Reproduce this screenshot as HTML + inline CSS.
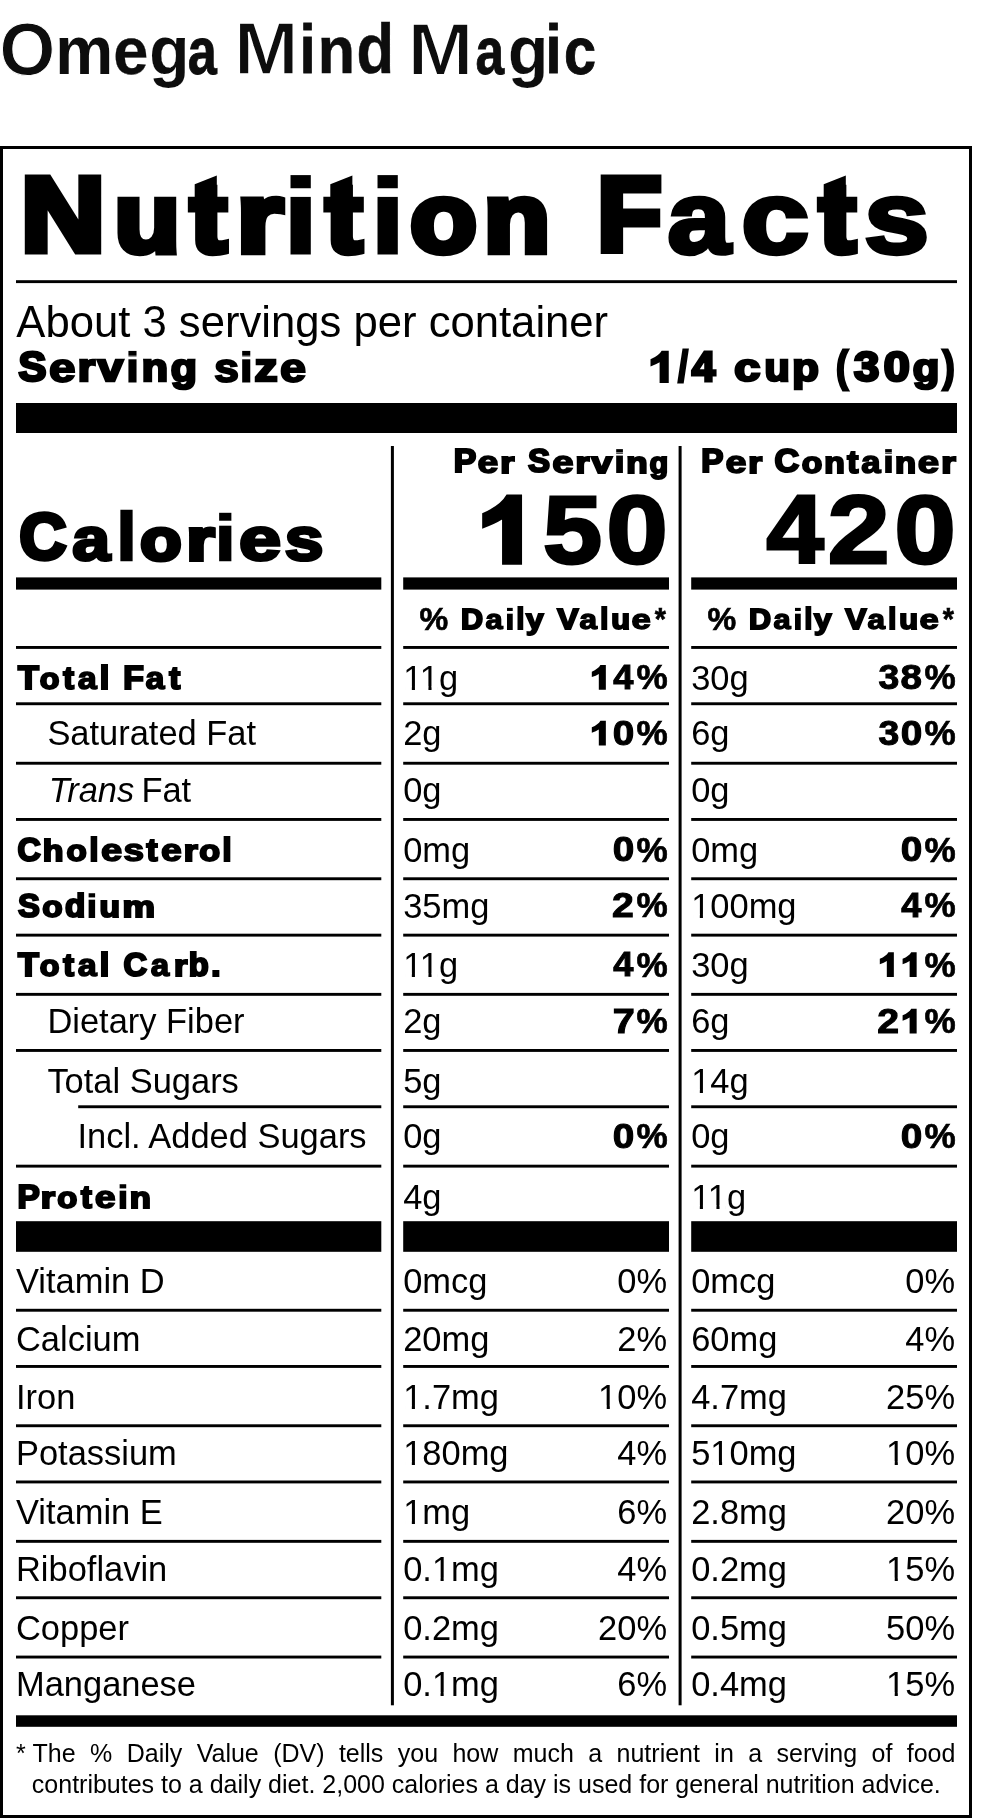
<!DOCTYPE html><html><head><meta charset="utf-8"><title>Nutrition Facts</title>
<style>html,body{margin:0;padding:0;background:#fff}svg{display:block;will-change:transform}text{font-family:"Liberation Sans",sans-serif;fill:#000}</style></head><body>
<svg width="992" height="1819" viewBox="0 0 992 1819">
<rect width="992" height="1819" fill="#fff"/>
<rect x="0.00" y="146.00" width="972.00" height="3.00"/>
<rect x="0.00" y="1815.00" width="972.00" height="3.00"/>
<rect x="0.00" y="146.00" width="3.00" height="1672.00"/>
<rect x="969.00" y="146.00" width="3.00" height="1672.00"/>
<rect x="16.00" y="280.20" width="941.00" height="2.90"/>
<rect x="16.00" y="403.00" width="941.00" height="30.00"/>
<rect x="390.90" y="446.00" width="3.00" height="1259.30"/>
<rect x="678.60" y="446.00" width="3.00" height="1259.30"/>
<rect x="16.00" y="577.40" width="365.30" height="12.20"/>
<rect x="16.00" y="1221.20" width="365.30" height="30.60"/>
<rect x="403.20" y="577.40" width="265.80" height="12.20"/>
<rect x="403.20" y="1221.20" width="265.80" height="30.60"/>
<rect x="691.20" y="577.40" width="265.80" height="12.20"/>
<rect x="691.20" y="1221.20" width="265.80" height="30.60"/>
<rect x="16.00" y="1715.30" width="941.00" height="11.50"/>
<rect x="16.00" y="646.00" width="365.30" height="2.90"/>
<rect x="403.20" y="646.00" width="265.80" height="2.90"/>
<rect x="691.20" y="646.00" width="265.80" height="2.90"/>
<rect x="16.00" y="702.30" width="365.30" height="2.90"/>
<rect x="403.20" y="702.30" width="265.80" height="2.90"/>
<rect x="691.20" y="702.30" width="265.80" height="2.90"/>
<rect x="16.00" y="761.80" width="365.30" height="2.90"/>
<rect x="403.20" y="761.80" width="265.80" height="2.90"/>
<rect x="691.20" y="761.80" width="265.80" height="2.90"/>
<rect x="16.00" y="818.00" width="365.30" height="2.90"/>
<rect x="403.20" y="818.00" width="265.80" height="2.90"/>
<rect x="691.20" y="818.00" width="265.80" height="2.90"/>
<rect x="16.00" y="877.30" width="365.30" height="2.90"/>
<rect x="403.20" y="877.30" width="265.80" height="2.90"/>
<rect x="691.20" y="877.30" width="265.80" height="2.90"/>
<rect x="16.00" y="933.70" width="365.30" height="2.90"/>
<rect x="403.20" y="933.70" width="265.80" height="2.90"/>
<rect x="691.20" y="933.70" width="265.80" height="2.90"/>
<rect x="16.00" y="992.90" width="365.30" height="2.90"/>
<rect x="403.20" y="992.90" width="265.80" height="2.90"/>
<rect x="691.20" y="992.90" width="265.80" height="2.90"/>
<rect x="16.00" y="1049.00" width="365.30" height="2.90"/>
<rect x="403.20" y="1049.00" width="265.80" height="2.90"/>
<rect x="691.20" y="1049.00" width="265.80" height="2.90"/>
<rect x="78.20" y="1105.30" width="303.10" height="2.90"/>
<rect x="403.20" y="1105.30" width="265.80" height="2.90"/>
<rect x="691.20" y="1105.30" width="265.80" height="2.90"/>
<rect x="16.00" y="1164.70" width="365.30" height="2.90"/>
<rect x="403.20" y="1164.70" width="265.80" height="2.90"/>
<rect x="691.20" y="1164.70" width="265.80" height="2.90"/>
<rect x="16.00" y="1308.80" width="365.30" height="2.90"/>
<rect x="403.20" y="1308.80" width="265.80" height="2.90"/>
<rect x="691.20" y="1308.80" width="265.80" height="2.90"/>
<rect x="16.00" y="1365.00" width="365.30" height="2.90"/>
<rect x="403.20" y="1365.00" width="265.80" height="2.90"/>
<rect x="691.20" y="1365.00" width="265.80" height="2.90"/>
<rect x="16.00" y="1424.30" width="365.30" height="2.90"/>
<rect x="403.20" y="1424.30" width="265.80" height="2.90"/>
<rect x="691.20" y="1424.30" width="265.80" height="2.90"/>
<rect x="16.00" y="1480.50" width="365.30" height="2.90"/>
<rect x="403.20" y="1480.50" width="265.80" height="2.90"/>
<rect x="691.20" y="1480.50" width="265.80" height="2.90"/>
<rect x="16.00" y="1539.90" width="365.30" height="2.90"/>
<rect x="403.20" y="1539.90" width="265.80" height="2.90"/>
<rect x="691.20" y="1539.90" width="265.80" height="2.90"/>
<rect x="16.00" y="1596.30" width="365.30" height="2.90"/>
<rect x="403.20" y="1596.30" width="265.80" height="2.90"/>
<rect x="691.20" y="1596.30" width="265.80" height="2.90"/>
<rect x="16.00" y="1655.60" width="365.30" height="2.90"/>
<rect x="403.20" y="1655.60" width="265.80" height="2.90"/>
<rect x="691.20" y="1655.60" width="265.80" height="2.90"/>
<text transform="translate(-0.40,74.67) scale(0.9942,1.0189)" font-size="72.10" font-weight="bold" stroke="#fff" stroke-width="0.93" stroke-linejoin="miter" style="fill:#0d0d0d">O</text>
<text transform="translate(55.21,73.62) scale(0.9046,0.9414)" font-size="72.10" font-weight="bold" stroke="#fff" stroke-width="0.04" stroke-linejoin="miter" style="fill:#0d0d0d">m</text>
<text transform="translate(113.36,74.06) scale(0.8750,0.9332)" font-size="72.10" font-weight="bold" stroke="#0d0d0d" stroke-width="0.29" stroke-linejoin="miter" style="fill:#0d0d0d">e</text>
<text transform="translate(149.19,74.26) scale(0.9121,0.9434)" font-size="72.10" font-weight="bold" stroke="#fff" stroke-width="0.12" stroke-linejoin="miter" style="fill:#0d0d0d">g</text>
<text transform="translate(187.65,73.74) scale(0.7247,0.9163)" font-size="72.10" font-weight="bold" stroke="#0d0d0d" stroke-width="1.00" stroke-linejoin="miter" style="fill:#0d0d0d">a</text>
<text transform="translate(234.09,74.43) scale(1.0752,1.0332)" font-size="72.10" font-weight="bold" stroke="#fff" stroke-width="1.60" stroke-linejoin="miter" style="fill:#0d0d0d">M</text>
<text transform="translate(299.66,73.12) scale(0.7827,0.9560)" font-size="72.10" font-weight="bold" stroke="#0d0d0d" stroke-width="1.00" stroke-linejoin="miter" style="fill:#0d0d0d">i</text>
<text transform="translate(317.77,73.29) scale(0.8444,0.9243)" font-size="72.10" font-weight="bold" stroke="#0d0d0d" stroke-width="0.66" stroke-linejoin="miter" style="fill:#0d0d0d">n</text>
<text transform="translate(356.61,73.34) scale(0.8535,0.9641)" font-size="72.10" font-weight="bold" stroke="#0d0d0d" stroke-width="0.55" stroke-linejoin="miter" style="fill:#0d0d0d">d</text>
<text transform="translate(407.57,74.52) scale(1.0991,1.0371)" font-size="72.10" font-weight="bold" stroke="#fff" stroke-width="1.78" stroke-linejoin="miter" style="fill:#0d0d0d">M</text>
<text transform="translate(475.55,73.74) scale(0.7123,0.9163)" font-size="72.10" font-weight="bold" stroke="#0d0d0d" stroke-width="1.00" stroke-linejoin="miter" style="fill:#0d0d0d">a</text>
<text transform="translate(508.06,74.28) scale(0.9158,0.9444)" font-size="72.10" font-weight="bold" stroke="#fff" stroke-width="0.16" stroke-linejoin="miter" style="fill:#0d0d0d">g</text>
<text transform="translate(545.40,73.12) scale(0.7990,0.9560)" font-size="72.10" font-weight="bold" stroke="#0d0d0d" stroke-width="1.00" stroke-linejoin="miter" style="fill:#0d0d0d">i</text>
<text transform="translate(563.90,73.74) scale(0.7989,0.9163)" font-size="72.10" font-weight="bold" stroke="#0d0d0d" stroke-width="1.00" stroke-linejoin="miter" style="fill:#0d0d0d">c</text>
<text transform="translate(21.02,251.28) scale(1.1054,1.0000)" font-size="105.29" font-weight="bold" stroke="#000" stroke-width="7.23" stroke-linejoin="miter">N</text>
<text transform="translate(114.46,251.55) scale(1.0187,0.9250)" font-size="105.29" font-weight="bold" stroke="#000" stroke-width="7.23" stroke-linejoin="miter">u</text>
<text transform="translate(190.15,251.55) scale(1.0363,0.9250)" font-size="105.29" font-weight="bold" stroke="#000" stroke-width="7.23" stroke-linejoin="miter">t</text>
<text transform="translate(236.76,251.55) scale(1.1286,0.9250)" font-size="105.29" font-weight="bold" stroke="#000" stroke-width="7.23" stroke-linejoin="miter">r</text>
<text transform="translate(286.92,251.28) scale(0.9373,1.0000)" font-size="105.29" font-weight="bold" stroke="#000" stroke-width="7.23" stroke-linejoin="miter">i</text>
<text transform="translate(325.75,251.55) scale(1.0363,0.9250)" font-size="105.29" font-weight="bold" stroke="#000" stroke-width="7.23" stroke-linejoin="miter">t</text>
<text transform="translate(373.92,251.28) scale(0.9373,1.0000)" font-size="105.29" font-weight="bold" stroke="#000" stroke-width="7.23" stroke-linejoin="miter">i</text>
<text transform="translate(410.14,251.55) scale(1.0353,0.9250)" font-size="105.29" font-weight="bold" stroke="#000" stroke-width="7.23" stroke-linejoin="miter">o</text>
<text transform="translate(483.84,251.55) scale(1.0321,0.9250)" font-size="105.29" font-weight="bold" stroke="#000" stroke-width="7.23" stroke-linejoin="miter">n</text>
<text transform="translate(597.23,251.28) scale(1.0012,1.0000)" font-size="105.29" font-weight="bold" stroke="#000" stroke-width="7.23" stroke-linejoin="miter">F</text>
<text transform="translate(667.52,252.74) scale(1.0752,0.9713)" font-size="105.29" font-weight="bold" stroke="#000" stroke-width="4.45" stroke-linejoin="miter">a</text>
<text transform="translate(741.27,252.74) scale(1.1577,0.9713)" font-size="105.29" font-weight="bold" stroke="#000" stroke-width="4.45" stroke-linejoin="miter">c</text>
<text transform="translate(819.14,251.55) scale(1.0339,0.9250)" font-size="105.29" font-weight="bold" stroke="#000" stroke-width="7.23" stroke-linejoin="miter">t</text>
<text transform="translate(864.22,252.74) scale(1.1073,0.9713)" font-size="105.29" font-weight="bold" stroke="#000" stroke-width="4.45" stroke-linejoin="miter">s</text>
<text transform="translate(16.30,336.60) scale(0.9829,1.0000)" font-size="44.40">About 3 servings per container</text>
<text transform="translate(18.39,381.26) scale(0.9987,1.0000)" font-size="42.00" font-weight="bold" stroke="#000" stroke-width="2.89" stroke-linejoin="miter">S</text>
<text transform="translate(49.12,381.68) scale(1.1369,0.9534)" font-size="42.00" font-weight="bold" stroke="#000" stroke-width="2.13" stroke-linejoin="miter">e</text>
<text transform="translate(77.64,381.37) scale(1.0617,0.9250)" font-size="42.00" font-weight="bold" stroke="#000" stroke-width="2.89" stroke-linejoin="miter">r</text>
<text transform="translate(97.76,381.37) scale(1.0825,0.9250)" font-size="42.00" font-weight="bold" stroke="#000" stroke-width="2.89" stroke-linejoin="miter">v</text>
<text transform="translate(126.99,381.26) scale(0.9419,1.0000)" font-size="42.00" font-weight="bold" stroke="#000" stroke-width="2.89" stroke-linejoin="miter">i</text>
<text transform="translate(141.79,381.37) scale(1.0257,0.9250)" font-size="42.00" font-weight="bold" stroke="#000" stroke-width="2.89" stroke-linejoin="miter">n</text>
<text transform="translate(170.63,381.37) scale(1.0186,0.9250)" font-size="42.00" font-weight="bold" stroke="#000" stroke-width="2.89" stroke-linejoin="miter">g</text>
<text transform="translate(214.24,381.68) scale(1.0545,0.9534)" font-size="42.00" font-weight="bold" stroke="#000" stroke-width="2.13" stroke-linejoin="miter">s</text>
<text transform="translate(240.79,381.26) scale(0.9419,1.0000)" font-size="42.00" font-weight="bold" stroke="#000" stroke-width="2.89" stroke-linejoin="miter">i</text>
<text transform="translate(254.54,381.37) scale(1.0958,0.9250)" font-size="42.00" font-weight="bold" stroke="#000" stroke-width="2.89" stroke-linejoin="miter">z</text>
<text transform="translate(279.92,381.68) scale(1.1153,0.9534)" font-size="42.00" font-weight="bold" stroke="#000" stroke-width="2.13" stroke-linejoin="miter">e</text>
<text transform="translate(678.29,381.26) scale(0.8232,1.0000)" font-size="42.00" font-weight="bold" stroke="#000" stroke-width="2.89" stroke-linejoin="miter">/</text>
<text transform="translate(691.76,381.26) scale(1.0108,1.0000)" font-size="42.00" font-weight="bold" stroke="#000" stroke-width="2.89" stroke-linejoin="miter">4</text>
<text transform="translate(734.35,381.37) scale(1.1136,0.9250)" font-size="42.00" font-weight="bold" stroke="#000" stroke-width="2.89" stroke-linejoin="miter">c</text>
<text transform="translate(764.38,381.37) scale(0.9838,0.9250)" font-size="42.00" font-weight="bold" stroke="#000" stroke-width="2.89" stroke-linejoin="miter">u</text>
<text transform="translate(792.28,381.37) scale(1.0349,0.9250)" font-size="42.00" font-weight="bold" stroke="#000" stroke-width="2.89" stroke-linejoin="miter">p</text>
<text transform="translate(836.36,381.26) scale(0.8336,1.0000)" font-size="42.00" font-weight="bold" stroke="#000" stroke-width="2.89" stroke-linejoin="miter">(</text>
<text transform="translate(854.05,381.26) scale(1.0838,1.0000)" font-size="42.00" font-weight="bold" stroke="#000" stroke-width="2.89" stroke-linejoin="miter">3</text>
<text transform="translate(883.65,381.26) scale(1.1149,1.0000)" font-size="42.00" font-weight="bold" stroke="#000" stroke-width="2.89" stroke-linejoin="miter">0</text>
<text transform="translate(912.63,381.37) scale(1.0349,0.9250)" font-size="42.00" font-weight="bold" stroke="#000" stroke-width="2.89" stroke-linejoin="miter">g</text>
<text transform="translate(942.71,381.26) scale(0.8401,1.0000)" font-size="42.00" font-weight="bold" stroke="#000" stroke-width="2.89" stroke-linejoin="miter">)</text>
<text transform="translate(453.65,472.49) scale(1.0426,1.0000)" font-size="32.32" font-weight="bold" stroke="#000" stroke-width="2.22" stroke-linejoin="miter">P</text>
<text transform="translate(477.58,472.82) scale(1.1571,0.9534)" font-size="32.32" font-weight="bold" stroke="#000" stroke-width="1.64" stroke-linejoin="miter">e</text>
<text transform="translate(500.18,472.57) scale(1.1199,0.9250)" font-size="32.32" font-weight="bold" stroke="#000" stroke-width="2.22" stroke-linejoin="miter">r</text>
<text transform="translate(528.12,472.49) scale(1.0212,1.0000)" font-size="32.32" font-weight="bold" stroke="#000" stroke-width="2.22" stroke-linejoin="miter">S</text>
<text transform="translate(552.17,472.82) scale(1.1908,0.9534)" font-size="32.32" font-weight="bold" stroke="#000" stroke-width="1.64" stroke-linejoin="miter">e</text>
<text transform="translate(575.60,472.57) scale(1.1037,0.9250)" font-size="32.32" font-weight="bold" stroke="#000" stroke-width="2.22" stroke-linejoin="miter">r</text>
<text transform="translate(591.47,472.57) scale(1.1419,0.9250)" font-size="32.32" font-weight="bold" stroke="#000" stroke-width="2.22" stroke-linejoin="miter">v</text>
<text transform="translate(614.97,472.49) scale(1.0176,1.0000)" font-size="32.32" font-weight="bold" stroke="#000" stroke-width="2.22" stroke-linejoin="miter">i</text>
<text transform="translate(626.32,472.57) scale(1.0825,0.9250)" font-size="32.32" font-weight="bold" stroke="#000" stroke-width="2.22" stroke-linejoin="miter">n</text>
<text transform="translate(649.50,472.57) scale(0.9477,0.9250)" font-size="32.32" font-weight="bold" stroke="#000" stroke-width="2.22" stroke-linejoin="miter">g</text>
<text transform="translate(701.36,472.49) scale(1.0283,1.0000)" font-size="32.32" font-weight="bold" stroke="#000" stroke-width="2.22" stroke-linejoin="miter">P</text>
<text transform="translate(725.38,472.82) scale(1.1684,0.9534)" font-size="32.32" font-weight="bold" stroke="#000" stroke-width="1.64" stroke-linejoin="miter">e</text>
<text transform="translate(748.20,472.57) scale(1.1037,0.9250)" font-size="32.32" font-weight="bold" stroke="#000" stroke-width="2.22" stroke-linejoin="miter">r</text>
<text transform="translate(774.61,472.49) scale(1.0568,1.0000)" font-size="32.32" font-weight="bold" stroke="#000" stroke-width="2.22" stroke-linejoin="miter">C</text>
<text transform="translate(801.80,472.57) scale(1.0403,0.9250)" font-size="32.32" font-weight="bold" stroke="#000" stroke-width="2.22" stroke-linejoin="miter">o</text>
<text transform="translate(824.35,472.57) scale(1.0390,0.9250)" font-size="32.32" font-weight="bold" stroke="#000" stroke-width="2.22" stroke-linejoin="miter">n</text>
<text transform="translate(847.24,472.53) scale(1.0290,0.9600)" font-size="32.32" font-weight="bold" stroke="#000" stroke-width="2.22" stroke-linejoin="miter">t</text>
<text transform="translate(861.34,472.82) scale(1.0767,0.9534)" font-size="32.32" font-weight="bold" stroke="#000" stroke-width="1.64" stroke-linejoin="miter">a</text>
<text transform="translate(884.09,472.49) scale(1.0039,1.0000)" font-size="32.32" font-weight="bold" stroke="#000" stroke-width="2.22" stroke-linejoin="miter">i</text>
<text transform="translate(895.03,472.57) scale(1.0662,0.9250)" font-size="32.32" font-weight="bold" stroke="#000" stroke-width="2.22" stroke-linejoin="miter">n</text>
<text transform="translate(917.77,472.82) scale(1.1908,0.9534)" font-size="32.32" font-weight="bold" stroke="#000" stroke-width="1.64" stroke-linejoin="miter">e</text>
<text transform="translate(941.35,472.57) scale(1.1524,0.9250)" font-size="32.32" font-weight="bold" stroke="#000" stroke-width="2.22" stroke-linejoin="miter">r</text>
<text transform="translate(19.50,559.48) scale(1.0031,1.0000)" font-size="64.61" font-weight="bold" stroke="#000" stroke-width="4.44" stroke-linejoin="miter">C</text>
<text transform="translate(72.26,560.14) scale(1.0540,0.9534)" font-size="64.61" font-weight="bold" stroke="#000" stroke-width="3.28" stroke-linejoin="miter">a</text>
<text transform="translate(118.22,559.48) scale(0.9219,1.0000)" font-size="64.61" font-weight="bold" stroke="#000" stroke-width="4.44" stroke-linejoin="miter">l</text>
<text transform="translate(140.31,559.65) scale(1.0459,0.9250)" font-size="64.61" font-weight="bold" stroke="#000" stroke-width="4.44" stroke-linejoin="miter">o</text>
<text transform="translate(186.48,559.65) scale(1.1124,0.9250)" font-size="64.61" font-weight="bold" stroke="#000" stroke-width="4.44" stroke-linejoin="miter">r</text>
<text transform="translate(217.12,559.48) scale(0.9219,1.0000)" font-size="64.61" font-weight="bold" stroke="#000" stroke-width="4.44" stroke-linejoin="miter">i</text>
<text transform="translate(238.95,560.14) scale(1.1719,0.9534)" font-size="64.61" font-weight="bold" stroke="#000" stroke-width="3.28" stroke-linejoin="miter">e</text>
<text transform="translate(284.79,560.14) scale(1.0788,0.9534)" font-size="64.61" font-weight="bold" stroke="#000" stroke-width="3.28" stroke-linejoin="miter">s</text>
<text transform="translate(606.58,563.25) scale(1.1302,1.0000)" font-size="97.29" font-weight="bold" stroke="#000" stroke-width="2.91" stroke-linejoin="miter">0</text>
<text transform="translate(543.02,563.25) scale(1.0911,1.0000)" font-size="97.29" font-weight="bold" stroke="#000" stroke-width="2.91" stroke-linejoin="miter">5</text>
<text transform="translate(894.58,563.25) scale(1.1302,1.0000)" font-size="97.29" font-weight="bold" stroke="#000" stroke-width="2.91" stroke-linejoin="miter">0</text>
<text transform="translate(827.73,563.25) scale(1.1421,1.0000)" font-size="97.29" font-weight="bold" stroke="#000" stroke-width="2.91" stroke-linejoin="miter">2</text>
<text transform="translate(766.48,563.25) scale(1.0569,1.0000)" font-size="97.29" font-weight="bold" stroke="#000" stroke-width="2.91" stroke-linejoin="miter">4</text>
<text transform="translate(461.04,628.90) scale(1.0506,1.0000)" font-size="29.09" font-weight="bold" stroke="#000" stroke-width="2.00" stroke-linejoin="miter">D</text>
<text transform="translate(485.40,629.20) scale(1.0584,0.9534)" font-size="29.09" font-weight="bold" stroke="#000" stroke-width="1.48" stroke-linejoin="miter">a</text>
<text transform="translate(505.91,628.90) scale(0.9627,1.0000)" font-size="29.09" font-weight="bold" stroke="#000" stroke-width="2.00" stroke-linejoin="miter">i</text>
<text transform="translate(516.41,628.90) scale(0.9627,1.0000)" font-size="29.09" font-weight="bold" stroke="#000" stroke-width="2.00" stroke-linejoin="miter">l</text>
<text transform="translate(525.88,628.98) scale(1.0838,0.9250)" font-size="29.09" font-weight="bold" stroke="#000" stroke-width="2.00" stroke-linejoin="miter">y</text>
<text transform="translate(557.19,628.90) scale(1.0955,1.0000)" font-size="29.09" font-weight="bold" stroke="#000" stroke-width="2.00" stroke-linejoin="miter">V</text>
<text transform="translate(579.61,629.20) scale(1.0814,0.9534)" font-size="29.09" font-weight="bold" stroke="#000" stroke-width="1.48" stroke-linejoin="miter">a</text>
<text transform="translate(600.29,628.90) scale(0.9933,1.0000)" font-size="29.09" font-weight="bold" stroke="#000" stroke-width="2.00" stroke-linejoin="miter">l</text>
<text transform="translate(611.21,628.98) scale(1.0578,0.9250)" font-size="29.09" font-weight="bold" stroke="#000" stroke-width="2.00" stroke-linejoin="miter">u</text>
<text transform="translate(631.60,629.20) scale(1.1922,0.9534)" font-size="29.09" font-weight="bold" stroke="#000" stroke-width="1.48" stroke-linejoin="miter">e</text>
<text transform="translate(419.42,629.89) scale(1.0401,1.0000)" font-size="31.06" font-weight="bold" stroke="#000" stroke-width="0.61" stroke-linejoin="miter">%</text>
<text transform="translate(654.68,629.99) scale(0.9257,1.0000)" font-size="31.06" font-weight="bold" stroke="#000" stroke-width="0.61" stroke-linejoin="miter">*</text>
<text transform="translate(749.04,628.90) scale(1.0506,1.0000)" font-size="29.09" font-weight="bold" stroke="#000" stroke-width="2.00" stroke-linejoin="miter">D</text>
<text transform="translate(773.40,629.20) scale(1.0584,0.9534)" font-size="29.09" font-weight="bold" stroke="#000" stroke-width="1.48" stroke-linejoin="miter">a</text>
<text transform="translate(793.91,628.90) scale(0.9627,1.0000)" font-size="29.09" font-weight="bold" stroke="#000" stroke-width="2.00" stroke-linejoin="miter">i</text>
<text transform="translate(804.41,628.90) scale(0.9627,1.0000)" font-size="29.09" font-weight="bold" stroke="#000" stroke-width="2.00" stroke-linejoin="miter">l</text>
<text transform="translate(813.88,628.98) scale(1.0838,0.9250)" font-size="29.09" font-weight="bold" stroke="#000" stroke-width="2.00" stroke-linejoin="miter">y</text>
<text transform="translate(845.19,628.90) scale(1.0955,1.0000)" font-size="29.09" font-weight="bold" stroke="#000" stroke-width="2.00" stroke-linejoin="miter">V</text>
<text transform="translate(867.61,629.20) scale(1.0814,0.9534)" font-size="29.09" font-weight="bold" stroke="#000" stroke-width="1.48" stroke-linejoin="miter">a</text>
<text transform="translate(888.29,628.90) scale(0.9933,1.0000)" font-size="29.09" font-weight="bold" stroke="#000" stroke-width="2.00" stroke-linejoin="miter">l</text>
<text transform="translate(899.21,628.98) scale(1.0578,0.9250)" font-size="29.09" font-weight="bold" stroke="#000" stroke-width="2.00" stroke-linejoin="miter">u</text>
<text transform="translate(919.60,629.20) scale(1.1922,0.9534)" font-size="29.09" font-weight="bold" stroke="#000" stroke-width="1.48" stroke-linejoin="miter">e</text>
<text transform="translate(707.42,629.89) scale(1.0401,1.0000)" font-size="31.06" font-weight="bold" stroke="#000" stroke-width="0.61" stroke-linejoin="miter">%</text>
<text transform="translate(942.68,629.99) scale(0.9257,1.0000)" font-size="31.06" font-weight="bold" stroke="#000" stroke-width="0.61" stroke-linejoin="miter">*</text>
<text transform="translate(17.98,688.69) scale(1.0584,1.0000)" font-size="32.32" font-weight="bold" stroke="#000" stroke-width="2.22" stroke-linejoin="miter">T</text>
<text transform="translate(39.70,688.77) scale(0.9950,0.9250)" font-size="32.32" font-weight="bold" stroke="#000" stroke-width="2.22" stroke-linejoin="miter">o</text>
<text transform="translate(63.31,688.73) scale(0.9978,0.9600)" font-size="32.32" font-weight="bold" stroke="#000" stroke-width="2.22" stroke-linejoin="miter">t</text>
<text transform="translate(77.63,689.02) scale(1.0560,0.9534)" font-size="32.32" font-weight="bold" stroke="#000" stroke-width="1.64" stroke-linejoin="miter">a</text>
<text transform="translate(99.64,688.69) scale(1.0589,1.0000)" font-size="32.32" font-weight="bold" stroke="#000" stroke-width="2.22" stroke-linejoin="miter">l</text>
<text transform="translate(123.25,688.69) scale(1.0430,1.0000)" font-size="32.32" font-weight="bold" stroke="#000" stroke-width="2.22" stroke-linejoin="miter">F</text>
<text transform="translate(145.53,689.02) scale(1.0560,0.9534)" font-size="32.32" font-weight="bold" stroke="#000" stroke-width="1.64" stroke-linejoin="miter">a</text>
<text transform="translate(169.23,688.73) scale(1.0212,0.9600)" font-size="32.32" font-weight="bold" stroke="#000" stroke-width="2.22" stroke-linejoin="miter">t</text>
<text transform="translate(403.20,689.60)" font-size="34.45">11g</text>
<text transform="translate(691.20,689.60)" font-size="34.45">30g</text>
<text transform="translate(636.61,689.46) scale(1.0181,1.0000)" font-size="34.51" font-weight="bold" stroke="#000" stroke-width="0.68" stroke-linejoin="miter">%</text>
<text transform="translate(613.30,689.29) scale(1.0569,1.0000)" font-size="34.27" font-weight="bold" stroke="#000" stroke-width="1.03" stroke-linejoin="miter">4</text>
<text transform="translate(924.61,689.46) scale(1.0181,1.0000)" font-size="34.51" font-weight="bold" stroke="#000" stroke-width="0.68" stroke-linejoin="miter">%</text>
<text transform="translate(900.61,689.29) scale(1.1232,1.0000)" font-size="34.27" font-weight="bold" stroke="#000" stroke-width="1.03" stroke-linejoin="miter">8</text>
<text transform="translate(878.42,689.29) scale(1.0911,1.0000)" font-size="34.27" font-weight="bold" stroke="#000" stroke-width="1.03" stroke-linejoin="miter">3</text>
<text transform="translate(47.40,745.30)" font-size="34.45">Saturated Fat</text>
<text transform="translate(403.20,745.30)" font-size="34.45">2g</text>
<text transform="translate(691.20,745.30)" font-size="34.45">6g</text>
<text transform="translate(636.61,745.16) scale(1.0181,1.0000)" font-size="34.51" font-weight="bold" stroke="#000" stroke-width="0.68" stroke-linejoin="miter">%</text>
<text transform="translate(612.84,744.99) scale(1.1302,1.0000)" font-size="34.27" font-weight="bold" stroke="#000" stroke-width="1.03" stroke-linejoin="miter">0</text>
<text transform="translate(924.61,745.16) scale(1.0181,1.0000)" font-size="34.51" font-weight="bold" stroke="#000" stroke-width="0.68" stroke-linejoin="miter">%</text>
<text transform="translate(900.84,744.99) scale(1.1302,1.0000)" font-size="34.27" font-weight="bold" stroke="#000" stroke-width="1.03" stroke-linejoin="miter">0</text>
<text transform="translate(878.42,744.99) scale(1.0911,1.0000)" font-size="34.27" font-weight="bold" stroke="#000" stroke-width="1.03" stroke-linejoin="miter">3</text>
<text transform="translate(48.71,801.50)" font-size="34.45" font-style="italic">Trans</text>
<text transform="translate(141.41,801.50)" font-size="34.45">Fat</text>
<text transform="translate(403.20,801.50)" font-size="34.45">0g</text>
<text transform="translate(691.20,801.50)" font-size="34.45">0g</text>
<text transform="translate(17.50,860.89) scale(0.9984,1.0000)" font-size="32.32" font-weight="bold" stroke="#000" stroke-width="2.22" stroke-linejoin="miter">C</text>
<text transform="translate(42.74,860.97) scale(1.0499,0.9250)" font-size="32.32" font-weight="bold" stroke="#000" stroke-width="2.22" stroke-linejoin="miter">h</text>
<text transform="translate(66.50,860.97) scale(1.0252,0.9250)" font-size="32.32" font-weight="bold" stroke="#000" stroke-width="2.22" stroke-linejoin="miter">o</text>
<text transform="translate(89.50,860.89) scale(0.9901,1.0000)" font-size="32.32" font-weight="bold" stroke="#000" stroke-width="2.22" stroke-linejoin="miter">l</text>
<text transform="translate(101.08,861.22) scale(1.1796,0.9534)" font-size="32.32" font-weight="bold" stroke="#000" stroke-width="1.64" stroke-linejoin="miter">e</text>
<text transform="translate(123.58,861.22) scale(1.1447,0.9534)" font-size="32.32" font-weight="bold" stroke="#000" stroke-width="1.64" stroke-linejoin="miter">s</text>
<text transform="translate(146.53,860.93) scale(1.0212,0.9600)" font-size="32.32" font-weight="bold" stroke="#000" stroke-width="2.22" stroke-linejoin="miter">t</text>
<text transform="translate(160.88,861.22) scale(1.1571,0.9534)" font-size="32.32" font-weight="bold" stroke="#000" stroke-width="1.64" stroke-linejoin="miter">e</text>
<text transform="translate(183.69,860.97) scale(1.1118,0.9250)" font-size="32.32" font-weight="bold" stroke="#000" stroke-width="2.22" stroke-linejoin="miter">r</text>
<text transform="translate(199.31,860.97) scale(1.0553,0.9250)" font-size="32.32" font-weight="bold" stroke="#000" stroke-width="2.22" stroke-linejoin="miter">o</text>
<text transform="translate(222.49,860.89) scale(1.0039,1.0000)" font-size="32.32" font-weight="bold" stroke="#000" stroke-width="2.22" stroke-linejoin="miter">l</text>
<text transform="translate(403.20,861.80)" font-size="34.45">0mg</text>
<text transform="translate(691.20,861.80)" font-size="34.45">0mg</text>
<text transform="translate(636.61,861.66) scale(1.0181,1.0000)" font-size="34.51" font-weight="bold" stroke="#000" stroke-width="0.68" stroke-linejoin="miter">%</text>
<text transform="translate(612.84,861.49) scale(1.1302,1.0000)" font-size="34.27" font-weight="bold" stroke="#000" stroke-width="1.03" stroke-linejoin="miter">0</text>
<text transform="translate(924.61,861.66) scale(1.0181,1.0000)" font-size="34.51" font-weight="bold" stroke="#000" stroke-width="0.68" stroke-linejoin="miter">%</text>
<text transform="translate(900.84,861.49) scale(1.1302,1.0000)" font-size="34.27" font-weight="bold" stroke="#000" stroke-width="1.03" stroke-linejoin="miter">0</text>
<text transform="translate(17.91,916.59) scale(1.0123,1.0000)" font-size="32.32" font-weight="bold" stroke="#000" stroke-width="2.22" stroke-linejoin="miter">S</text>
<text transform="translate(42.30,916.67) scale(1.0302,0.9250)" font-size="32.32" font-weight="bold" stroke="#000" stroke-width="2.22" stroke-linejoin="miter">o</text>
<text transform="translate(65.00,916.59) scale(1.0271,1.0000)" font-size="32.32" font-weight="bold" stroke="#000" stroke-width="2.22" stroke-linejoin="miter">d</text>
<text transform="translate(87.51,916.59) scale(0.9764,1.0000)" font-size="32.32" font-weight="bold" stroke="#000" stroke-width="2.22" stroke-linejoin="miter">i</text>
<text transform="translate(99.58,916.67) scale(1.0390,0.9250)" font-size="32.32" font-weight="bold" stroke="#000" stroke-width="2.22" stroke-linejoin="miter">u</text>
<text transform="translate(122.57,916.67) scale(1.1309,0.9250)" font-size="32.32" font-weight="bold" stroke="#000" stroke-width="2.22" stroke-linejoin="miter">m</text>
<text transform="translate(403.20,917.50)" font-size="34.45">35mg</text>
<text transform="translate(691.20,917.50)" font-size="34.45">100mg</text>
<text transform="translate(636.61,917.36) scale(1.0181,1.0000)" font-size="34.51" font-weight="bold" stroke="#000" stroke-width="0.68" stroke-linejoin="miter">%</text>
<text transform="translate(612.08,917.19) scale(1.1421,1.0000)" font-size="34.27" font-weight="bold" stroke="#000" stroke-width="1.03" stroke-linejoin="miter">2</text>
<text transform="translate(924.61,917.36) scale(1.0181,1.0000)" font-size="34.51" font-weight="bold" stroke="#000" stroke-width="0.68" stroke-linejoin="miter">%</text>
<text transform="translate(901.30,917.19) scale(1.0569,1.0000)" font-size="34.27" font-weight="bold" stroke="#000" stroke-width="1.03" stroke-linejoin="miter">4</text>
<text transform="translate(17.98,975.79) scale(1.0584,1.0000)" font-size="32.32" font-weight="bold" stroke="#000" stroke-width="2.22" stroke-linejoin="miter">T</text>
<text transform="translate(39.70,975.87) scale(0.9950,0.9250)" font-size="32.32" font-weight="bold" stroke="#000" stroke-width="2.22" stroke-linejoin="miter">o</text>
<text transform="translate(63.31,975.83) scale(0.9978,0.9600)" font-size="32.32" font-weight="bold" stroke="#000" stroke-width="2.22" stroke-linejoin="miter">t</text>
<text transform="translate(77.63,976.12) scale(1.0560,0.9534)" font-size="32.32" font-weight="bold" stroke="#000" stroke-width="1.64" stroke-linejoin="miter">a</text>
<text transform="translate(99.64,975.79) scale(1.0589,1.0000)" font-size="32.32" font-weight="bold" stroke="#000" stroke-width="2.22" stroke-linejoin="miter">l</text>
<text transform="translate(123.60,975.79) scale(1.0109,1.0000)" font-size="32.32" font-weight="bold" stroke="#000" stroke-width="2.22" stroke-linejoin="miter">C</text>
<text transform="translate(150.82,976.12) scale(1.0250,0.9534)" font-size="32.32" font-weight="bold" stroke="#000" stroke-width="1.64" stroke-linejoin="miter">a</text>
<text transform="translate(173.93,975.87) scale(1.0631,0.9250)" font-size="32.32" font-weight="bold" stroke="#000" stroke-width="2.22" stroke-linejoin="miter">r</text>
<text transform="translate(188.78,975.79) scale(1.0112,1.0000)" font-size="32.32" font-weight="bold" stroke="#000" stroke-width="2.22" stroke-linejoin="miter">b</text>
<text transform="translate(211.26,975.79) scale(1.0314,1.0000)" font-size="32.32" font-weight="bold" stroke="#000" stroke-width="2.22" stroke-linejoin="miter">.</text>
<text transform="translate(403.20,976.70)" font-size="34.45">11g</text>
<text transform="translate(691.20,976.70)" font-size="34.45">30g</text>
<text transform="translate(636.61,976.56) scale(1.0181,1.0000)" font-size="34.51" font-weight="bold" stroke="#000" stroke-width="0.68" stroke-linejoin="miter">%</text>
<text transform="translate(613.30,976.39) scale(1.0569,1.0000)" font-size="34.27" font-weight="bold" stroke="#000" stroke-width="1.03" stroke-linejoin="miter">4</text>
<text transform="translate(924.61,976.56) scale(1.0181,1.0000)" font-size="34.51" font-weight="bold" stroke="#000" stroke-width="0.68" stroke-linejoin="miter">%</text>
<text transform="translate(47.40,1033.30)" font-size="34.45">Dietary Fiber</text>
<text transform="translate(403.20,1033.30)" font-size="34.45">2g</text>
<text transform="translate(691.20,1033.30)" font-size="34.45">6g</text>
<text transform="translate(636.61,1033.16) scale(1.0181,1.0000)" font-size="34.51" font-weight="bold" stroke="#000" stroke-width="0.68" stroke-linejoin="miter">%</text>
<text transform="translate(612.76,1032.99) scale(1.1574,1.0000)" font-size="34.27" font-weight="bold" stroke="#000" stroke-width="1.03" stroke-linejoin="miter">7</text>
<text transform="translate(924.61,1033.16) scale(1.0181,1.0000)" font-size="34.51" font-weight="bold" stroke="#000" stroke-width="0.68" stroke-linejoin="miter">%</text>
<text transform="translate(877.29,1032.99) scale(1.1421,1.0000)" font-size="34.27" font-weight="bold" stroke="#000" stroke-width="1.03" stroke-linejoin="miter">2</text>
<text transform="translate(47.40,1092.60)" font-size="34.45">Total Sugars</text>
<text transform="translate(403.20,1092.60)" font-size="34.45">5g</text>
<text transform="translate(691.20,1092.60)" font-size="34.45">14g</text>
<text transform="translate(77.50,1148.40)" font-size="34.45">Incl. Added Sugars</text>
<text transform="translate(403.20,1148.40)" font-size="34.45">0g</text>
<text transform="translate(691.20,1148.40)" font-size="34.45">0g</text>
<text transform="translate(636.61,1148.26) scale(1.0181,1.0000)" font-size="34.51" font-weight="bold" stroke="#000" stroke-width="0.68" stroke-linejoin="miter">%</text>
<text transform="translate(612.84,1148.09) scale(1.1302,1.0000)" font-size="34.27" font-weight="bold" stroke="#000" stroke-width="1.03" stroke-linejoin="miter">0</text>
<text transform="translate(924.61,1148.26) scale(1.0181,1.0000)" font-size="34.51" font-weight="bold" stroke="#000" stroke-width="0.68" stroke-linejoin="miter">%</text>
<text transform="translate(900.84,1148.09) scale(1.1302,1.0000)" font-size="34.27" font-weight="bold" stroke="#000" stroke-width="1.03" stroke-linejoin="miter">0</text>
<text transform="translate(17.46,1207.59) scale(1.0331,1.0000)" font-size="32.32" font-weight="bold" stroke="#000" stroke-width="2.22" stroke-linejoin="miter">P</text>
<text transform="translate(40.87,1207.67) scale(1.1361,0.9250)" font-size="32.32" font-weight="bold" stroke="#000" stroke-width="2.22" stroke-linejoin="miter">r</text>
<text transform="translate(57.20,1207.67) scale(1.0151,0.9250)" font-size="32.32" font-weight="bold" stroke="#000" stroke-width="2.22" stroke-linejoin="miter">o</text>
<text transform="translate(81.12,1207.63) scale(1.0056,0.9600)" font-size="32.32" font-weight="bold" stroke="#000" stroke-width="2.22" stroke-linejoin="miter">t</text>
<text transform="translate(94.68,1207.92) scale(1.1628,0.9534)" font-size="32.32" font-weight="bold" stroke="#000" stroke-width="1.64" stroke-linejoin="miter">e</text>
<text transform="translate(118.50,1207.59) scale(0.9901,1.0000)" font-size="32.32" font-weight="bold" stroke="#000" stroke-width="2.22" stroke-linejoin="miter">i</text>
<text transform="translate(129.73,1207.67) scale(1.0716,0.9250)" font-size="32.32" font-weight="bold" stroke="#000" stroke-width="2.22" stroke-linejoin="miter">n</text>
<text transform="translate(403.20,1208.50)" font-size="34.45">4g</text>
<text transform="translate(691.20,1208.50)" font-size="34.45">11g</text>
<text transform="translate(16.00,1292.60)" font-size="34.45">Vitamin D</text>
<text transform="translate(403.20,1292.60)" font-size="34.45">0mcg</text>
<text transform="translate(691.20,1292.60)" font-size="34.45">0mcg</text>
<text transform="translate(617.24,1292.60)" font-size="34.45">0%</text>
<text transform="translate(905.24,1292.60)" font-size="34.45">0%</text>
<text transform="translate(16.00,1351.40)" font-size="34.45">Calcium</text>
<text transform="translate(403.20,1351.40)" font-size="34.45">20mg</text>
<text transform="translate(691.20,1351.40)" font-size="34.45">60mg</text>
<text transform="translate(617.24,1351.40)" font-size="34.45">2%</text>
<text transform="translate(905.24,1351.40)" font-size="34.45">4%</text>
<text transform="translate(16.00,1408.70)" font-size="34.45">Iron</text>
<text transform="translate(403.20,1408.70)" font-size="34.45">1.7mg</text>
<text transform="translate(691.20,1408.70)" font-size="34.45">4.7mg</text>
<text transform="translate(598.08,1408.70)" font-size="34.45">10%</text>
<text transform="translate(886.08,1408.70)" font-size="34.45">25%</text>
<text transform="translate(16.00,1464.50)" font-size="34.45">Potassium</text>
<text transform="translate(403.20,1464.50)" font-size="34.45">180mg</text>
<text transform="translate(691.20,1464.50)" font-size="34.45">510mg</text>
<text transform="translate(617.24,1464.50)" font-size="34.45">4%</text>
<text transform="translate(886.08,1464.50)" font-size="34.45">10%</text>
<text transform="translate(16.00,1523.80)" font-size="34.45">Vitamin E</text>
<text transform="translate(403.20,1523.80)" font-size="34.45">1mg</text>
<text transform="translate(691.20,1523.80)" font-size="34.45">2.8mg</text>
<text transform="translate(617.24,1523.80)" font-size="34.45">6%</text>
<text transform="translate(886.08,1523.80)" font-size="34.45">20%</text>
<text transform="translate(16.00,1580.90)" font-size="34.45">Riboflavin</text>
<text transform="translate(403.20,1580.90)" font-size="34.45">0.1mg</text>
<text transform="translate(691.20,1580.90)" font-size="34.45">0.2mg</text>
<text transform="translate(617.24,1580.90)" font-size="34.45">4%</text>
<text transform="translate(886.08,1580.90)" font-size="34.45">15%</text>
<text transform="translate(16.00,1639.70)" font-size="34.45">Copper</text>
<text transform="translate(403.20,1639.70)" font-size="34.45">0.2mg</text>
<text transform="translate(691.20,1639.70)" font-size="34.45">0.5mg</text>
<text transform="translate(598.08,1639.70)" font-size="34.45">20%</text>
<text transform="translate(886.08,1639.70)" font-size="34.45">50%</text>
<text transform="translate(16.00,1695.50)" font-size="34.45">Manganese</text>
<text transform="translate(403.20,1695.50)" font-size="34.45">0.1mg</text>
<text transform="translate(691.20,1695.50)" font-size="34.45">0.4mg</text>
<text transform="translate(617.24,1695.50)" font-size="34.45">6%</text>
<text transform="translate(886.08,1695.50)" font-size="34.45">15%</text>
<text transform="translate(16.11,1761.80)" font-size="25.00">*</text>
<text transform="translate(31.82,1792.60) scale(1.0002,1.0000)" font-size="25.00">contributes to a daily diet. 2,000 calories a day is used for general nutrition advice.</text>
<text x="32.60" y="1761.8" font-size="25.0">The</text>
<text x="90.08" y="1761.8" font-size="25.0">%</text>
<text x="126.70" y="1761.8" font-size="25.0">Daily</text>
<text x="196.66" y="1761.8" font-size="25.0">Value</text>
<text x="273.15" y="1761.8" font-size="25.0">(DV)</text>
<text x="338.92" y="1761.8" font-size="25.0">tells</text>
<text x="397.78" y="1761.8" font-size="25.0">you</text>
<text x="452.48" y="1761.8" font-size="25.0">how</text>
<text x="512.74" y="1761.8" font-size="25.0">much</text>
<text x="588.27" y="1761.8" font-size="25.0">a</text>
<text x="616.57" y="1761.8" font-size="25.0">nutrient</text>
<text x="714.35" y="1761.8" font-size="25.0">in</text>
<text x="748.21" y="1761.8" font-size="25.0">a</text>
<text x="776.51" y="1761.8" font-size="25.0">serving</text>
<text x="871.50" y="1761.8" font-size="25.0">of</text>
<text x="906.74" y="1761.8" font-size="25.0">food</text>
<path d="M194.7,184.2 L216.8,175.4 L216.8,202 L194.7,202 Z"/>
<path d="M330.3,184.2 L352.4,175.4 L352.4,202 L330.3,202 Z"/>
<path d="M823.7,184.2 L845.8,175.4 L845.8,202 L823.7,202 Z"/>
<path d="M661.67,350.81 L668.75,350.81 L668.75,382.90 L659.60,382.90 L659.60,362.25 Q656.01,364.52 650.50,366.43 L650.50,359.32 Q658.83,355.90 661.67,350.81 Z"/>
<path d="M506.57,494.60 L522.05,494.60 L522.05,564.70 L502.06,564.70 L502.06,519.60 Q494.21,524.54 482.18,528.71 L482.18,513.19 Q500.38,505.72 506.57,494.60 Z"/>
<path d="M600.40,665.11 L605.85,665.11 L605.85,689.80 L598.81,689.80 L598.81,673.91 Q596.05,675.65 591.81,677.12 L591.81,671.66 Q598.22,669.02 600.40,665.11 Z"/>
<path d="M600.40,720.81 L605.85,720.81 L605.85,745.50 L598.81,745.50 L598.81,729.61 Q596.05,731.35 591.81,732.82 L591.81,727.36 Q598.22,724.72 600.40,720.81 Z"/>
<path d="M911.20,952.21 L916.65,952.21 L916.65,976.90 L909.61,976.90 L909.61,961.01 Q906.84,962.75 902.60,964.22 L902.60,958.76 Q909.01,956.12 911.20,952.21 Z"/>
<path d="M888.40,952.21 L893.85,952.21 L893.85,976.90 L886.81,976.90 L886.81,961.01 Q884.05,962.75 879.81,964.22 L879.81,958.76 Q886.22,956.12 888.40,952.21 Z"/>
<path d="M911.20,1008.81 L916.65,1008.81 L916.65,1033.50 L909.61,1033.50 L909.61,1017.61 Q906.84,1019.35 902.60,1020.82 L902.60,1015.36 Q909.01,1012.72 911.20,1008.81 Z"/>
<rect x="405.05" y="686.49" width="6.78" height="4.11" fill="#fff"/>
<rect x="414.94" y="686.49" width="6.34" height="4.11" fill="#fff"/>
<rect x="421.65" y="686.49" width="6.78" height="4.11" fill="#fff"/>
<rect x="431.54" y="686.49" width="6.34" height="4.11" fill="#fff"/>
<rect x="693.05" y="914.39" width="6.78" height="4.11" fill="#fff"/>
<rect x="702.94" y="914.39" width="6.34" height="4.11" fill="#fff"/>
<rect x="405.05" y="973.59" width="6.78" height="4.11" fill="#fff"/>
<rect x="414.94" y="973.59" width="6.34" height="4.11" fill="#fff"/>
<rect x="421.65" y="973.59" width="6.78" height="4.11" fill="#fff"/>
<rect x="431.54" y="973.59" width="6.34" height="4.11" fill="#fff"/>
<rect x="693.05" y="1089.49" width="6.78" height="4.11" fill="#fff"/>
<rect x="702.94" y="1089.49" width="6.34" height="4.11" fill="#fff"/>
<rect x="693.05" y="1205.39" width="6.78" height="4.11" fill="#fff"/>
<rect x="702.94" y="1205.39" width="6.34" height="4.11" fill="#fff"/>
<rect x="709.65" y="1205.39" width="6.78" height="4.11" fill="#fff"/>
<rect x="719.54" y="1205.39" width="6.34" height="4.11" fill="#fff"/>
<rect x="405.05" y="1405.59" width="6.78" height="4.11" fill="#fff"/>
<rect x="414.94" y="1405.59" width="6.34" height="4.11" fill="#fff"/>
<rect x="599.93" y="1405.59" width="6.78" height="4.11" fill="#fff"/>
<rect x="609.82" y="1405.59" width="6.34" height="4.11" fill="#fff"/>
<rect x="405.05" y="1461.39" width="6.78" height="4.11" fill="#fff"/>
<rect x="414.94" y="1461.39" width="6.34" height="4.11" fill="#fff"/>
<rect x="712.21" y="1461.39" width="6.78" height="4.11" fill="#fff"/>
<rect x="722.10" y="1461.39" width="6.34" height="4.11" fill="#fff"/>
<rect x="887.93" y="1461.39" width="6.78" height="4.11" fill="#fff"/>
<rect x="897.82" y="1461.39" width="6.34" height="4.11" fill="#fff"/>
<rect x="405.05" y="1520.69" width="6.78" height="4.11" fill="#fff"/>
<rect x="414.94" y="1520.69" width="6.34" height="4.11" fill="#fff"/>
<rect x="433.78" y="1577.79" width="6.78" height="4.11" fill="#fff"/>
<rect x="443.67" y="1577.79" width="6.34" height="4.11" fill="#fff"/>
<rect x="887.93" y="1577.79" width="6.78" height="4.11" fill="#fff"/>
<rect x="897.82" y="1577.79" width="6.34" height="4.11" fill="#fff"/>
<rect x="433.78" y="1692.39" width="6.78" height="4.11" fill="#fff"/>
<rect x="443.67" y="1692.39" width="6.34" height="4.11" fill="#fff"/>
<rect x="887.93" y="1692.39" width="6.78" height="4.11" fill="#fff"/>
<rect x="897.82" y="1692.39" width="6.34" height="4.11" fill="#fff"/>
<rect x="287.70" y="189.90" width="26.20" height="7.00" fill="#fff"/>
<rect x="287.70" y="160.00" width="26.20" height="15.10" fill="#fff"/>
<rect x="374.70" y="189.90" width="26.20" height="7.00" fill="#fff"/>
<rect x="374.70" y="160.00" width="26.20" height="15.10" fill="#fff"/>
<rect x="127.10" y="356.81" width="10.90" height="2.49" fill="#fff"/>
<rect x="127.10" y="346.29" width="10.90" height="4.62" fill="#fff"/>
<rect x="240.90" y="356.81" width="10.90" height="2.49" fill="#fff"/>
<rect x="240.90" y="346.29" width="10.90" height="4.62" fill="#fff"/>
<rect x="614.90" y="453.68" width="9.40" height="1.91" fill="#fff"/>
<rect x="614.90" y="445.58" width="9.40" height="3.55" fill="#fff"/>
<rect x="884.00" y="453.68" width="9.30" height="1.91" fill="#fff"/>
<rect x="884.00" y="445.58" width="9.30" height="3.55" fill="#fff"/>
<rect x="217.80" y="521.88" width="15.40" height="3.82" fill="#fff"/>
<rect x="217.80" y="505.69" width="15.40" height="7.10" fill="#fff"/>
<rect x="505.70" y="611.97" width="8.30" height="1.72" fill="#fff"/>
<rect x="505.70" y="604.68" width="8.30" height="3.20" fill="#fff"/>
<rect x="793.70" y="611.97" width="8.30" height="1.72" fill="#fff"/>
<rect x="793.70" y="604.68" width="8.30" height="3.20" fill="#fff"/>
<rect x="87.40" y="897.78" width="9.10" height="1.91" fill="#fff"/>
<rect x="87.40" y="889.68" width="9.10" height="3.55" fill="#fff"/>
<rect x="118.40" y="1188.78" width="9.20" height="1.91" fill="#fff"/>
<rect x="118.40" y="1180.68" width="9.20" height="3.55" fill="#fff"/>
</svg></body></html>
